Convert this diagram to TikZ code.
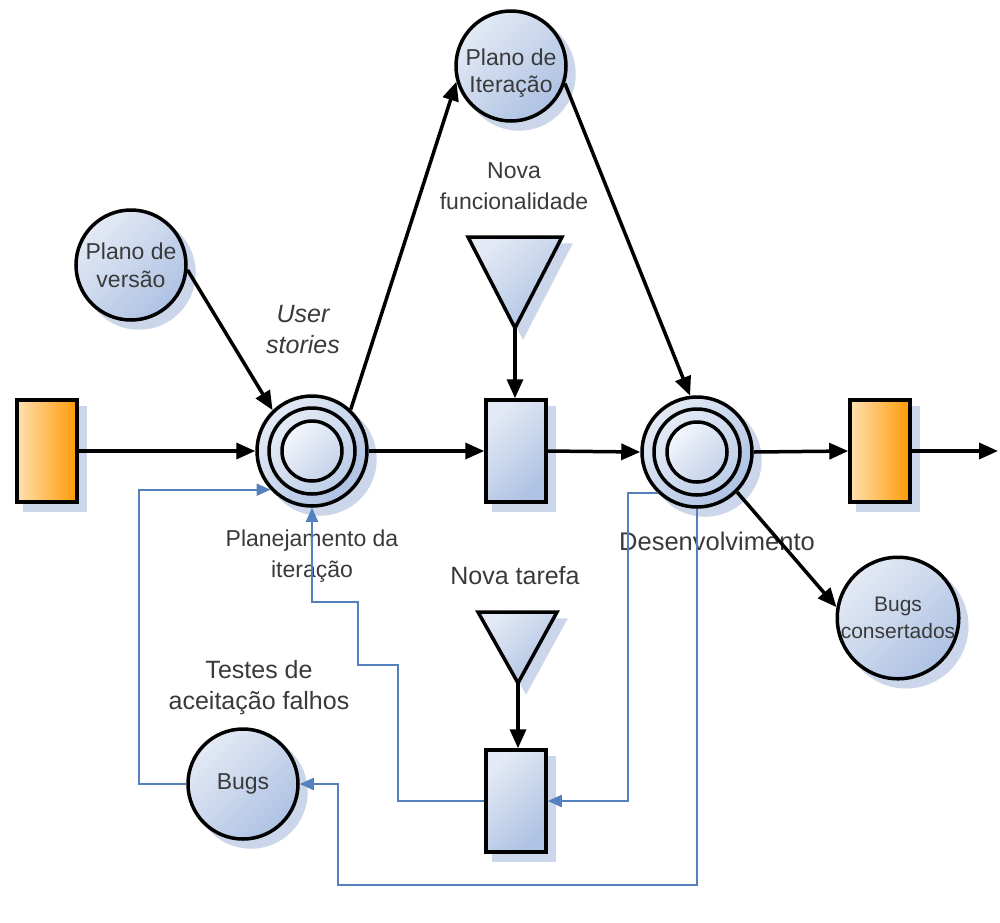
\documentclass[tikz,border=0pt]{standalone}
\usepackage{fontspec}
\setmainfont{Liberation Sans}
\usetikzlibrary{arrows.meta,calc}
\definecolor{txt}{HTML}{3A3A3A}
\definecolor{fillA}{HTML}{E4EAF5}
\definecolor{fillB}{HTML}{AEC2E3}
\definecolor{shad}{HTML}{CBD6EA}
\definecolor{blu}{HTML}{5580BE}
\definecolor{orA}{HTML}{FFE0B0}
\definecolor{orB}{HTML}{FF9A05}
\begin{document}
\begin{tikzpicture}[x=1pt,y=-1pt,
  lbl/.style={text=txt, align=center},
  fsa/.style={font=\fontsize{23}{31}\selectfont},
  fsb/.style={font=\fontsize{25}{31}\selectfont},
  shd/.style={preaction={fill=shad, draw=shad, line width=3.5pt, transform canvas={xshift=8pt,yshift=-8pt}}},
  place/.style={circle, draw=black, line width=3.5pt, minimum size=110pt, inner sep=0pt,
    top color=fillA, bottom color=fillB, shading angle=45, shd,
    font=\fontsize{23}{28}\selectfont, text=txt, align=center},
  trans/.style={rectangle, draw=black, line width=3.5pt, minimum width=60pt, minimum height=102pt,
    inner sep=0pt, top color=fillA, bottom color=fillB, shading angle=45, shd},
  obox/.style={rectangle, draw=black, line width=3.5pt, minimum width=60pt, minimum height=102pt,
    inner sep=0pt, left color=orA, right color=orB, shd},
  ring/.style={draw=black, line width=3.5pt},
  arr/.style={draw=black, line width=3.5pt, -{Triangle[length=19pt,width=16pt]}},
  bl/.style={draw=blu, line width=2pt, -{Triangle[length=14pt,width=12pt]}}
]
\fill[white] (0,0) rectangle (1000,922);
\useasboundingbox (0,0) rectangle (1000,922);

% nodes
\node[obox] (lb) at (47,451) {};
\node[obox] (rb) at (880,451) {};
\node[trans] (r1) at (516,451) {};
\node[trans] (r2) at (516,801) {};

\node[place] (pi) at (312,451) {};
\node[place] (dev) at (697,452) {};
\foreach \n in {pi,dev}{
  \draw[ring, top color=fillA, bottom color=fillB!70!fillA, shading angle=45] (\n.center) circle[radius=43];
  \draw[ring, top color=white!60!fillA, bottom color=fillB!60!fillA, shading angle=45] (\n.center) circle[radius=30];
}

\node[place] (pv) at (131,265) {Plano de\\versão};
\node[place] (pit) at (511,66) {};
\node[lbl, font=\fontsize{23}{27}\selectfont] (pitt) at (511,73) {Plano de\\Iteração};
\node[place] (bugs) at (243,784) {Bugs};
\node[place, minimum size=120pt, font=\fontsize{21}{27}\selectfont] (bc) at (898,618) {Bugs\\consertados};

% triangles
\draw[line width=3.5pt, top color=fillA, bottom color=fillB, shading angle=45, shd]
  (468,237) -- (562,237) -- (515,328) -- cycle;
\coordinate (t1) at (515,328);
\draw[line width=3.5pt, top color=fillA, bottom color=fillB, shading angle=45, shd]
  (478,612) -- (557,612) -- (518,683) -- cycle;
\coordinate (t2) at (518,683);
\coordinate (endpt) at (998,451);

% labels
\node[lbl, font=\fontsize{25}{31}\selectfont\itshape] (us) at (303,330) {User\\stories};
\node[lbl, fsa] (nf) at (514,186) {Nova\\funcionalidade};
\node[lbl, fsa] (plit) at (312,556) {Planejamento da\\iteração};
\node[lbl, font=\fontsize{25.5}{31}\selectfont] (desl) at (717,541) {Desenvolvimento};
\node[lbl, fsb] (nt) at (515,576) {Nova tarefa};
\node[lbl, fsb] (taf) at (259,688) {Testes de\\aceitação falhos};

% black connectors
\draw[arr] (lb.east) -- (pi.west);
\draw[arr] (pi.east) -- (r1.west);
\draw[arr] (r1.east) -- (dev.west);
\draw[arr] (dev.east) -- (rb.west);
\draw[arr] (rb.east) -- (endpt);
\draw[arr] (pv.-5) -- (pi.134);
\draw[arr] (pi.47) -- (pit.-164);
\draw[arr] (pit.-18) -- (dev.97);
\draw[arr] (dev.-45) -- (bc.170);
\draw[arr] (t1) -- (t1 |- r1.north);
\draw[arr] (t2) -- (t2 |- r2.north);

% blue connectors
\draw[bl] (dev.-134) -| ($(r2.east)+(80,0)$) -- (r2.east);
\draw[bl] (r2.west) -- (398,801) |- (358,665) |- (312,602) -- (pi.south);
\draw[bl] (bugs.west) -- ++(-47,0) |- (pi.-137);
\draw[bl] (dev.south) -- (697,885) -| (338,784) -- (bugs.east);
\end{tikzpicture}
\end{document}
